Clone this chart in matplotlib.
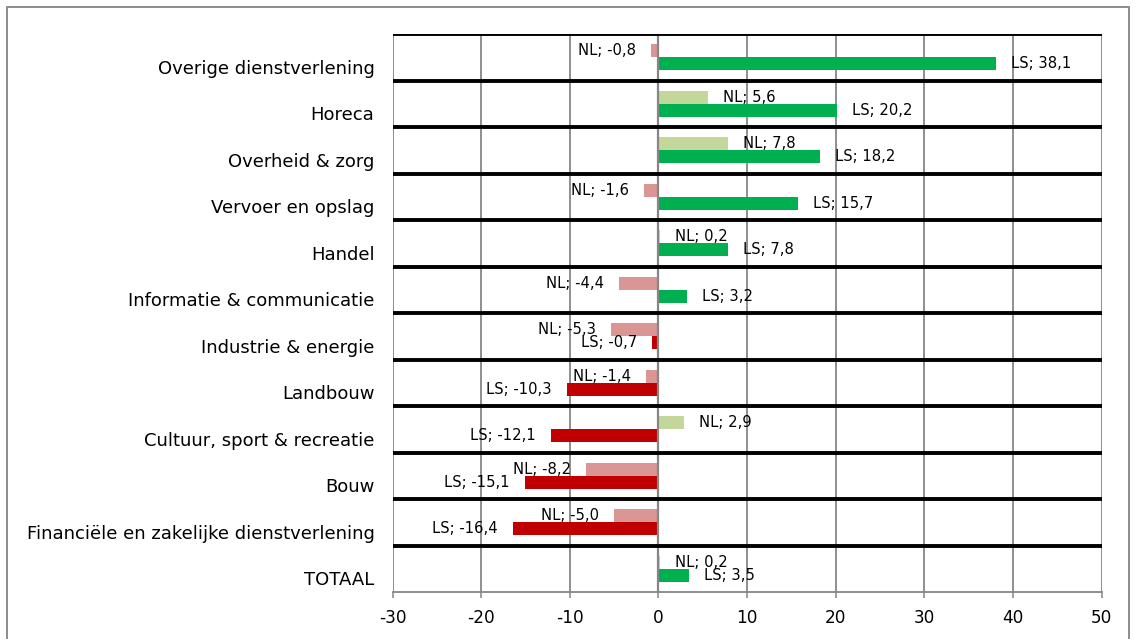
import matplotlib
matplotlib.use("Agg")
import matplotlib.pyplot as plt
from matplotlib.patches import Rectangle
from matplotlib.transforms import ScaledTranslation

categories = [
    "Overige dienstverlening",
    "Horeca",
    "Overheid & zorg",
    "Vervoer en opslag",
    "Handel",
    "Informatie & communicatie",
    "Industrie & energie",
    "Landbouw",
    "Cultuur, sport & recreatie",
    "Bouw",
    "Financiële en zakelijke dienstverlening",
    "TOTAAL",
]
nl_values = [-0.8, 5.6, 7.8, -1.6, 0.2, -4.4, -5.3, -1.4, 2.9, -8.2, -5.0, 0.2]
ls_values = [38.1, 20.2, 18.2, 15.7, 7.8, 3.2, -0.7, -10.3, -12.1, -15.1, -16.4, 3.5]
x_ticks = [-30, -20, -10, 0, 10, 20, 30, 40, 50]

plt.rcParams['font.family'] = ['DejaVu Sans']

W, H = 1136, 639
fig = plt.figure(figsize=(W / 100, H / 100), dpi=100)
ax = fig.add_axes([392.5 / W, 1 - 592 / H, (1101.5 - 392.5) / W, (592 - 34) / H])

GRAY = "#868686"
NL_POS, NL_NEG = "#C4D79B", "#D99694"
LS_POS, LS_NEG = "#00B050", "#C00000"
bh = 0.28

ypos = list(range(len(categories)))
nl_colors = [NL_POS if v >= 0 else NL_NEG for v in nl_values]
ls_colors = [LS_POS if v >= 0 else LS_NEG for v in ls_values]
ax.barh([y - bh / 2 for y in ypos], nl_values, height=bh, color=nl_colors, zorder=3)
ax.barh([y + bh / 2 for y in ypos], ls_values, height=bh, color=ls_colors, zorder=3)

def fmt(prefix, v):
    return f"{prefix}; {v:.1f}".replace(".", ",")

LBL = 10.6
for y, v in zip(ypos, nl_values):
    off = 10.8 if v >= 0 else -10.8
    ax.annotate(fmt("NL", v), (v, y - bh / 2), xytext=(off, 0), textcoords="offset points",
                ha="left" if v >= 0 else "right", va="center", fontsize=LBL, zorder=5)
for y, v in zip(ypos, ls_values):
    off = 10.8 if v >= 0 else -10.8
    ax.annotate(fmt("LS", v), (v, y + bh / 2), xytext=(off, 0), textcoords="offset points",
                ha="left" if v >= 0 else "right", va="center", fontsize=LBL, zorder=5)

ax.set_xlim(-30, 50)
ax.set_ylim(len(categories) - 0.5, -0.5)
ax.set_xticks(x_ticks)
ax.set_xticklabels([str(t) for t in x_ticks], fontsize=12.2)
ax.set_yticks(ypos)
ax.set_yticklabels(categories, fontsize=13.0)
ax.tick_params(axis="y", length=0, pad=13)
ax.tick_params(axis="x", length=4.5, width=1.1, color=GRAY, pad=8, direction="out")

shift = ScaledTranslation(0, -9.5 / 100, fig.dpi_scale_trans)
for lab in ax.get_yticklabels():
    lab.set_transform(lab.get_transform() + shift)

# vertical gridlines
for t in x_ticks:
    ax.axvline(t, color=GRAY, lw=1.3 if t != 0 else 1.6, zorder=2 if t != 0 else 4)
# black category separators
for b in range(len(categories)):
    ax.axhline(b - 0.5, color="black", lw=2.8, zorder=4)

for s in ["left", "right", "top"]:
    ax.spines[s].set_visible(False)
ax.spines["bottom"].set_color(GRAY)
ax.spines["bottom"].set_linewidth(1.3)

fig.patches.append(Rectangle((7 / W, -0.05), (1129 - 7) / W, 1.05 - 7 / H,
                             transform=fig.transFigure, fill=False, edgecolor="#8c8c8c", lw=1.4))

fig.savefig("out.png", dpi=100)
